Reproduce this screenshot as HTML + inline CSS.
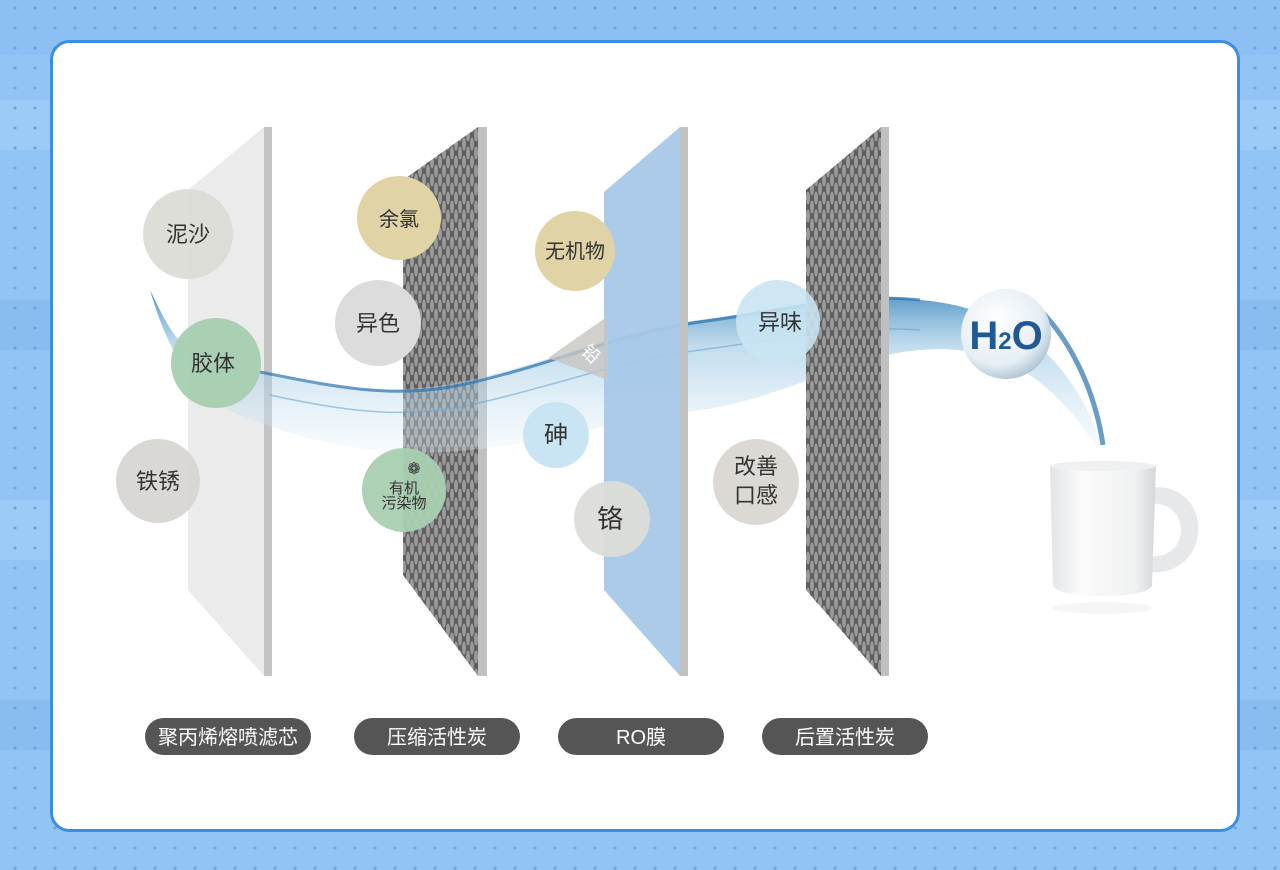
<!DOCTYPE html>
<html><head><meta charset="utf-8"><style>
html,body{margin:0;padding:0;width:1280px;height:870px;overflow:hidden;}
svg{display:block}
text{font-family:"Liberation Sans","Noto Sans CJK SC",sans-serif;}
</style></head><body>
<svg width="1280" height="870" viewBox="0 0 1280 870" xmlns="http://www.w3.org/2000/svg">
<defs>
<pattern id="dots" width="20" height="20" patternUnits="userSpaceOnUse" x="5" y="-2">
<circle cx="10" cy="10" r="1.6" fill="#6fa3dc"/>
</pattern>
<pattern id="mesh" width="8" height="18" patternUnits="userSpaceOnUse">
<rect width="8" height="18" fill="#5e5e5e"/>
<ellipse cx="4" cy="9" rx="2" ry="6.5" fill="#9a9a9a"/>
<ellipse cx="0" cy="0" rx="2" ry="6.5" fill="#9a9a9a"/>
<ellipse cx="8" cy="0" rx="2" ry="6.5" fill="#9a9a9a"/>
<ellipse cx="0" cy="18" rx="2" ry="6.5" fill="#9a9a9a"/>
<ellipse cx="8" cy="18" rx="2" ry="6.5" fill="#9a9a9a"/>
</pattern>
<linearGradient id="water" x1="0" y1="0" x2="0" y2="1">
<stop offset="0" stop-color="#2f7fb8" stop-opacity="0.85"/>
<stop offset="0.35" stop-color="#8fc0e0" stop-opacity="0.55"/>
<stop offset="1" stop-color="#e8f3fa" stop-opacity="0.3"/>
</linearGradient>
<radialGradient id="bubble" cx="0.4" cy="0.35" r="0.7">
<stop offset="0" stop-color="#ffffff"/>
<stop offset="0.7" stop-color="#e6eef4"/>
<stop offset="1" stop-color="#a9bfd0"/>
</radialGradient>
<linearGradient id="cup" x1="0" y1="0" x2="1" y2="0">
<stop offset="0" stop-color="#e2e4e6"/>
<stop offset="0.3" stop-color="#fbfbfb"/>
<stop offset="0.8" stop-color="#f0f1f2"/>
<stop offset="1" stop-color="#d4d7da"/>
</linearGradient>
</defs>
<rect width="1280" height="870" fill="#92c5f6"/>
<rect y="0" width="1280" height="55" fill="#8cc0f4"/>
<rect y="100" width="1280" height="50" fill="#9ccbf7"/>
<rect y="300" width="1280" height="50" fill="#89bdf2"/>
<rect y="500" width="1280" height="60" fill="#9ccbf7"/>
<rect y="700" width="1280" height="50" fill="#89bdf2"/>
<rect width="1280" height="870" fill="url(#dots)"/>
<rect x="51.5" y="41.5" width="1187" height="789" rx="18" fill="#fff" stroke="#3b8fe2" stroke-width="3"/>

<polygon points="188,190 264,127 264,676 188,590" fill="#ebebeb"/>
<rect x="264" y="127" width="8" height="549" fill="#c4c4c4"/>
<polygon points="403,180 478,127 478,676 403,575" fill="url(#mesh)"/>
<rect x="478" y="127" width="9" height="549" fill="#c0c0c0"/>

<path d="M150,290 C170,330 180,360 240,370 C320,385 380,400 470,380 C560,360 620,330 700,320 C780,310 850,290 920,300 C980,305 1060,330 1100,440 L1095,445 C1040,360 980,345 920,350 C850,355 780,400 700,410 C620,420 560,440 470,450 C380,460 300,440 240,415 C200,400 170,360 150,290 Z" fill="url(#water)"/>
<path d="M260,372 C340,388 400,400 470,383 C560,362 620,333 700,322 C790,310 850,292 920,300" fill="none" stroke="#2a73ad" stroke-width="3" opacity="0.7"/>
<path d="M270,395 C340,410 400,420 470,405 C560,385 620,360 700,350 C790,338 850,325 920,330" fill="none" stroke="#6aa6d2" stroke-width="1.5" opacity="0.6"/>
<path d="M1040,310 C1070,340 1095,390 1103,445" fill="none" stroke="#2a73ad" stroke-width="5" opacity="0.7"/>

<polygon points="604,192 680,127 680,676 604,590" fill="#a8c8e8" opacity="0.95"/>
<rect x="680" y="127" width="8" height="549" fill="#c2c2c2"/>
<polygon points="548,358 608,316 608,380" fill="#c8c6c2" opacity="0.8"/>
<text x="590" y="360" font-size="18" fill="#fff" transform="rotate(45 590 355)" text-anchor="middle">铅</text>
<polygon points="806,190 881,127 881,676 806,590" fill="url(#mesh)"/>
<rect x="881" y="127" width="8" height="549" fill="#c0c0c0"/>

<g font-size="22" fill="#333" text-anchor="middle">
<circle cx="188" cy="234" r="45" fill="#dcdcd6" opacity="0.95"/><text x="188" y="242">泥沙</text>
<circle cx="216" cy="363" r="45" fill="#a6cfb0" opacity="0.95"/><text x="213" y="371">胶体</text>
<circle cx="158" cy="481" r="42" fill="#d8d6d2" opacity="0.95"/><text x="158" y="489">铁锈</text>
<circle cx="399" cy="218" r="42" fill="#e0d3a6"/><text x="399" y="226" font-size="20">余氯</text>
<circle cx="378" cy="323" r="43" fill="#dcdcdc"/><text x="378" y="331">异色</text>
<circle cx="404" cy="490" r="42" fill="#a8cfb0" opacity="0.95"/><text x="404" y="493" font-size="15">有机</text><text x="404" y="508" font-size="15">污染物</text>
<text x="414" y="474" font-size="16">❁</text>
<circle cx="575" cy="251" r="40" fill="#e0d3a6"/><text x="575" y="258" font-size="20">无机物</text>
<circle cx="556" cy="435" r="33" fill="#c9e4f2"/><text x="556" y="443" font-size="24">砷</text>
<circle cx="612" cy="519" r="38" fill="#dcdcd8" opacity="0.95"/><text x="610" y="528" font-size="26">铬</text>
<circle cx="778" cy="322" r="42" fill="#c9e4f2" opacity="0.9"/><text x="780" y="330">异味</text>
<circle cx="756" cy="482" r="43" fill="#dcd9d5"/><text x="756" y="474">改善</text><text x="756" y="503">口感</text>
</g>

<circle cx="1006" cy="334" r="45" fill="url(#bubble)"/>
<text x="1006" y="349" font-size="40" font-weight="bold" fill="#1f5a96" text-anchor="middle" font-family="Liberation Sans Narrow, Liberation Sans">H<tspan font-size="24">2</tspan>O</text>

<path d="M1148,488 C1215,478 1215,578 1148,572 L1148,556 C1192,562 1192,498 1148,504 Z" fill="#e6e8ea"/>
<path d="M1050,465 L1156,465 L1152,585 C1150,600 1055,600 1053,585 Z" fill="url(#cup)"/>
<ellipse cx="1103" cy="466" rx="53" ry="5" fill="#eef0f2"/>
<ellipse cx="1103" cy="608" rx="50" ry="6" fill="#eef0f2" opacity="0.6"/>

<g font-size="20" fill="#fff" text-anchor="middle">
<rect x="145" y="718" width="166" height="37" rx="18.5" fill="#555"/><text x="228" y="744">聚丙烯熔喷滤芯</text>
<rect x="354" y="718" width="166" height="37" rx="18.5" fill="#555"/><text x="437" y="744">压缩活性炭</text>
<rect x="558" y="718" width="166" height="37" rx="18.5" fill="#555"/><text x="641" y="744">RO膜</text>
<rect x="762" y="718" width="166" height="37" rx="18.5" fill="#555"/><text x="845" y="744">后置活性炭</text>
</g>
</svg>
</body></html>
